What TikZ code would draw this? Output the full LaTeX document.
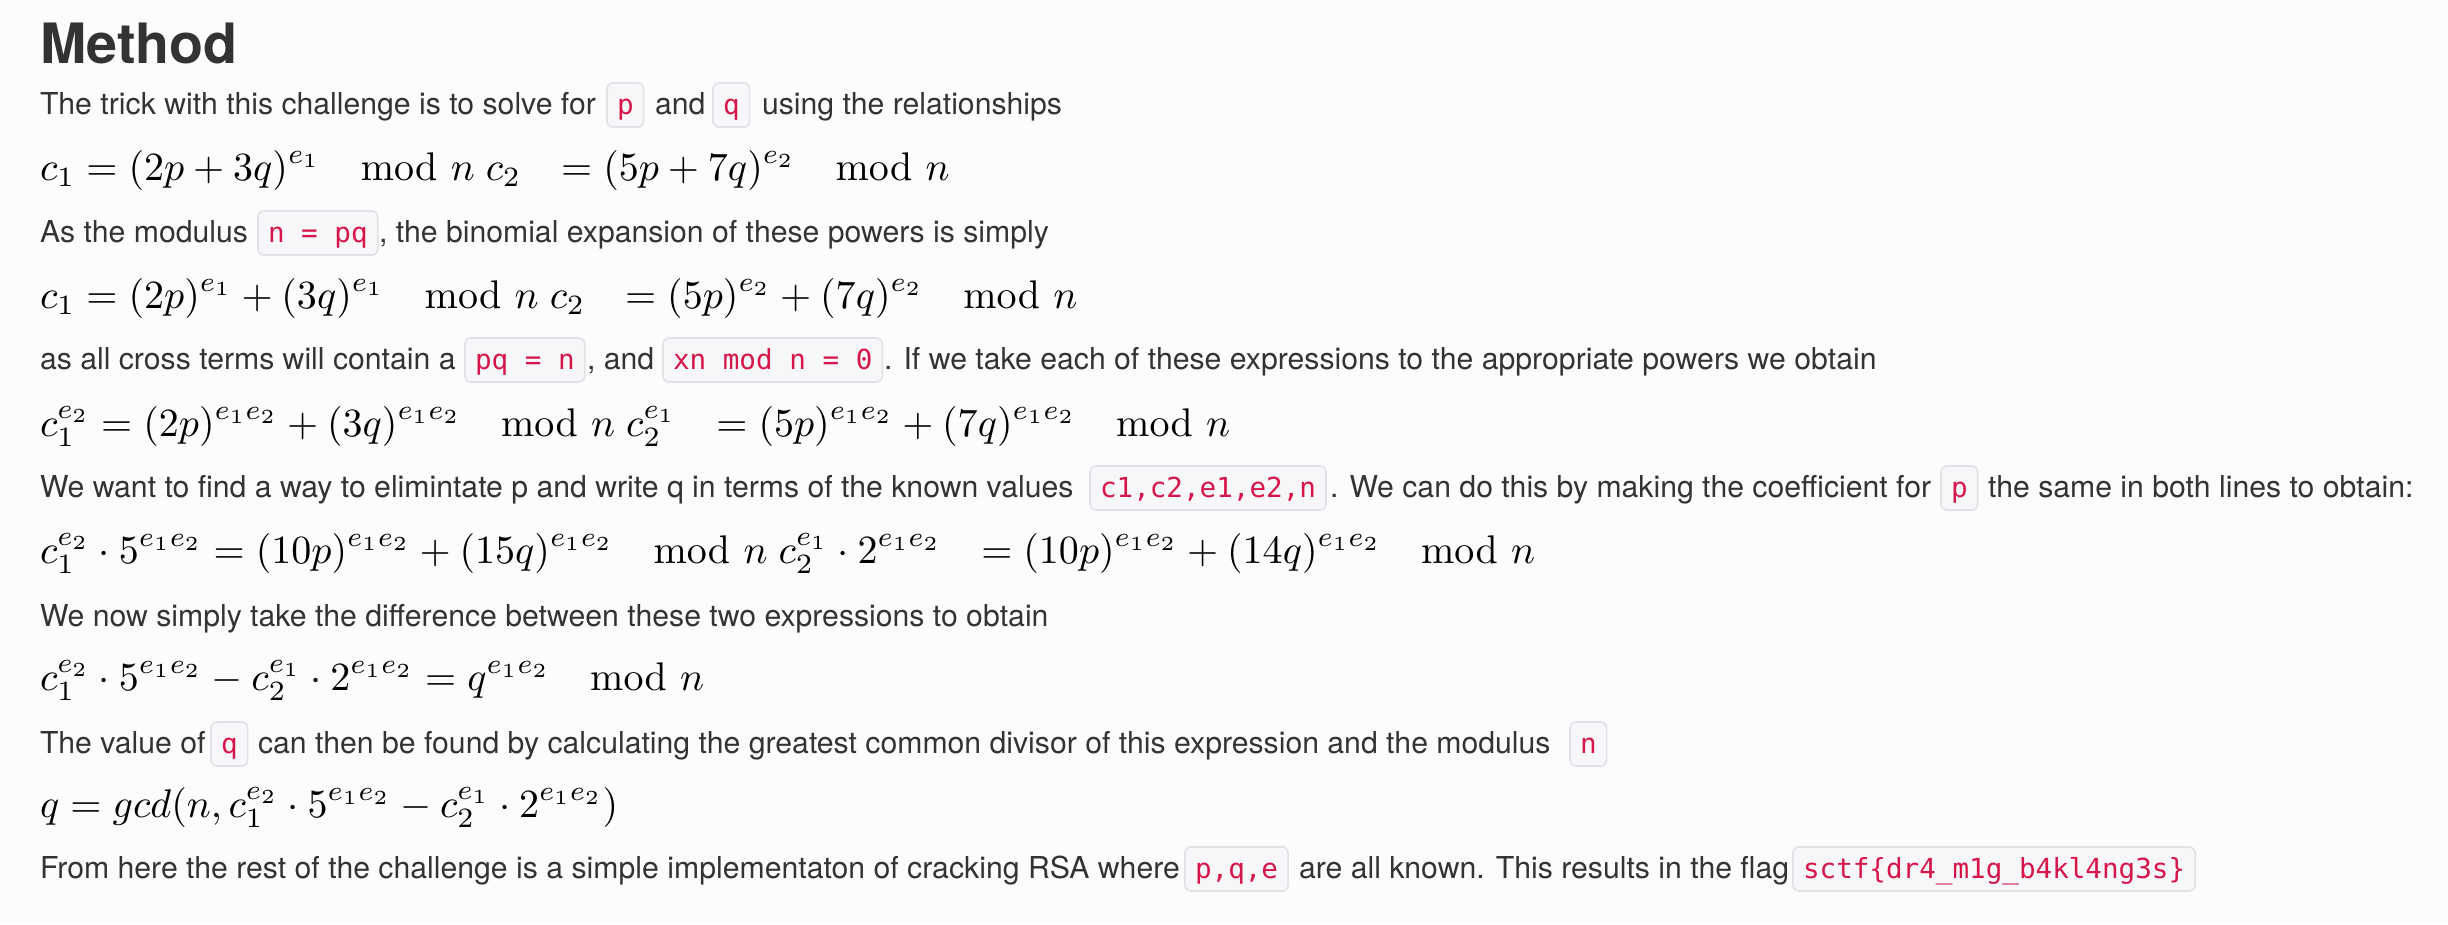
\documentclass[tikz,border=0pt]{standalone}
\usepackage{amsmath}
\usepackage[no-math]{fontspec}
\setmainfont{TeX Gyre Heros}
\setmonofont{DejaVu Sans Mono}
\usepackage{tikz}

\definecolor{ink}{HTML}{333333}
\definecolor{codered}{HTML}{D6164A}
\definecolor{codebg}{HTML}{F7F7F9}
\definecolor{codeline}{HTML}{E1E1E8}
\definecolor{pagebg}{HTML}{FCFCFC}

\newcommand{\md}{\mkern18mu\mathrm{mod}\,\,}

\begin{document}
\begin{tikzpicture}[x=0.25pt, y=-0.25pt,
   txt/.style={anchor=base west, inner sep=0, outer sep=0, text=ink,
      font=\fontsize{7.55pt}{9pt}\selectfont},
   eqn/.style={anchor=base west, inner sep=0, outer sep=0, text=black,
      font=\fontsize{10pt}{12pt}\selectfont},
   code/.style={anchor=base west, outer sep=0, inner xsep=2.5pt, inner ysep=0,
      text height=7.75pt, text depth=3.25pt, text=codered,
      fill=codebg, draw=codeline, line width=0.4pt, rounded corners=1.5pt,
      font=\fontsize{6.9pt}{8pt}\selectfont\ttfamily}]
   \path [fill=pagebg] (0, 0) rectangle (2448, 924);

   \node [txt, font=\fontsize{13.9pt}{16pt}\selectfont\bfseries] (title) at (40, 63) {Method};

   % relationships
   \node [txt] (t1a) at (40, 114) {The trick with this challenge is to solve for};
   \node [code] (k1a) at (607, 114) {p};
   \node [txt] (t1b) at (655, 114) {and};
   \node [code] (k1b) at (713, 114) {q};
   \node [txt] (t1c) at (762, 114) {using the relationships};
   \node [eqn] (m1) at (40, 180) {$\displaystyle c_1 = (2p+3q)^{e_1} \md n\ c_2 \mkern13mu = (5p+7q)^{e_2} \md n$};

   % binomial expansion
   \node [txt] (t2a) at (40, 242) {As the modulus};
   \node [code] (k2a) at (258, 242) {n = pq};
   \node [txt] (t2b) at (379, 242) {, the binomial expansion of these powers is simply};
   \node [eqn] (m2) at (40, 308) {$\displaystyle c_1 = (2p)^{e_1} + (3q)^{e_1} \md n\ c_2 \mkern13mu = (5p)^{e_2} + (7q)^{e_2} \md n$};

   \node [txt] (t3a) at (40, 369) {as all cross terms will contain a};
   \node [code] (k3a) at (465, 369) {pq = n};
   \node [txt] (t3b) at (587, 369) {, and};
   \node [code] (k3b) at (663, 369) {xn mod n = 0};
   \node [txt] (t3c) at (884, 369) {. If we take each of these expressions to the appropriate powers we obtain};
   \node [eqn] (m3) at (40, 436) {$\displaystyle c_1^{e_2} = (2p)^{e_1e_2} + (3q)^{e_1e_2} \md n\ c_2^{e_1} \mkern13mu = (5p)^{e_1e_2} + (7q)^{e_1e_2} \md n$};

   % same coefficient for p
   \node [txt] (t4a) at (40, 497) {We want to find a way to elimintate p and write q in terms of the known values};
   \node [code] (k4a) at (1090, 497) {c1,c2,e1,e2,n};
   \node [txt] (t4b) at (1330, 497) {. We can do this by making the coefficient for};
   \node [code] (k4b) at (1941, 497) {p};
   \node [txt] (t4c) at (1988, 497) {the same in both lines to obtain:};
   \node [eqn] (m4) at (40, 563) {$\displaystyle c_1^{e_2}\cdot 5^{e_1e_2} = (10p)^{e_1e_2} + (15q)^{e_1e_2} \md n\ c_2^{e_1}\cdot 2^{e_1e_2} \mkern13mu = (10p)^{e_1e_2} + (14q)^{e_1e_2} \md n$};

   \node [txt] (t5a) at (40, 626) {We now simply take the difference between these two expressions to obtain};
   \node [eqn] (m5) at (40, 690) {$\displaystyle c_1^{e_2}\cdot 5^{e_1e_2} - c_2^{e_1}\cdot 2^{e_1e_2} = q^{e_1e_2} \md n$};

   % gcd
   \node [txt] (t6a) at (40, 753) {The value of};
   \node [code] (k6a) at (211, 753) {q};
   \node [txt] (t6b) at (258, 753) {can then be found by calculating the greatest common divisor of this expression and the modulus};
   \node [code] (k6b) at (1570, 753) {n};
   \node [eqn] (m6) at (40, 817) {$\displaystyle q = gcd(n, c_1^{e_2}\cdot 5^{e_1e_2} - c_2^{e_1}\cdot 2^{e_1e_2})$};

   \node [txt] (t7a) at (40, 878) {From here the rest of the challenge is a simple implementaton of cracking RSA where};
   \node [code] (k7a) at (1185, 878) {p,q,e};
   \node [txt] (t7b) at (1299, 878) {are all known. This results in the flag};
   \node [code] (k7b) at (1793, 878) {sctf\{dr4\_m1g\_b4kl4ng3s\}};
\end{tikzpicture}
\end{document}
